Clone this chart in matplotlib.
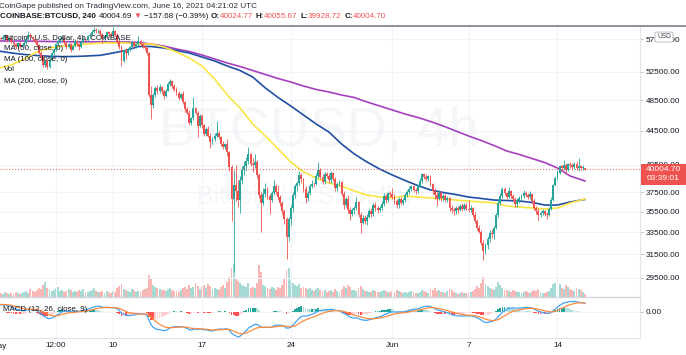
import numpy as np
import matplotlib
matplotlib.use("Agg")
import matplotlib.pyplot as plt
from matplotlib.patches import Rectangle, FancyBboxPatch
from matplotlib.ticker import FixedLocator, NullLocator, FormatStrFormatter
from matplotlib.lines import Line2D

plt.rcParams['font.family'] = ['Liberation Sans', 'DejaVu Sans']

# ---------------- data (4h candles, May 1 00:00 UTC -> Jun 16 04:00 UTC) ----------------
first_open = 57700
closes = [
    57750, 57600, 57900, 58200, 57400, 57800,   # May 1
    57100, 56700, 56300, 56900, 56400, 56580,   # May 2
    57000, 57600, 58300, 57900, 57500, 57170,   # May 3
    56600, 55400, 54700, 53600, 54200, 53250,   # May 4
    54300, 55300, 55900, 56800, 57200, 57520,   # May 5
    57800, 56900, 56300, 56700, 55900, 56440,   # May 6
    57200, 56800, 56300, 57100, 57600, 57350,   # May 7
    58000, 58300, 58700, 59100, 58800, 58950,   # May 8
    58400, 57600, 58100, 58700, 58400, 58240,   # May 9
    58800, 58300, 57200, 56300, 54200, 55850,   # May 10
    55300, 55900, 56300, 57100, 56500, 56720,   # May 11
    57200, 56700, 56400, 56100, 55300, 49150,   # May 12
    47800, 49200, 50200, 49800, 50300, 49720,   # May 13
    49100, 49800, 50700, 51200, 50500, 49880,   # May 14
    49500, 48800, 49300, 48200, 47300, 46760,   # May 15
    45500, 46100, 47400, 46800, 45100, 46430,   # May 16
    45200, 44100, 44800, 43900, 43100, 43540,   # May 17
    43900, 44300, 43700, 42900, 42500, 42900,   # May 18
    41900, 40200, 36800, 38200, 37600, 36690,   # May 19
    38800, 39900, 40300, 40900, 41700, 40590,   # May 20
    40400, 40800, 39300, 37200, 36400, 37300,   # May 21
    37800, 37100, 36700, 37400, 38100, 37530,   # May 22
    37000, 36400, 35600, 34800, 33100, 34770,   # May 23
    35900, 37200, 38100, 38500, 39300, 38870,   # May 24
    37800, 36900, 37400, 38100, 38400, 38340,   # May 25
    39200, 39900, 39100, 38600, 39400, 39240,   # May 26
    38800, 39500, 38900, 37900, 38400, 38530,   # May 27
    37300, 36200, 36800, 35700, 35300, 35680,   # May 28
    35900, 36500, 35200, 34400, 34900, 34610,   # May 29
    35000, 35600, 35300, 36200, 35900, 35680,   # May 30
    35900, 36300, 37100, 36700, 37400, 37340,   # May 31
    37000, 36600, 36200, 36800, 36400, 36690,   # Jun 1
    37200, 37500, 37800, 38100, 37700, 37580,   # Jun 2
    38200, 38700, 39400, 39100, 38900, 39190,   # Jun 3
    38300, 37600, 37200, 36800, 37400, 36880,   # Jun 4
    37100, 36700, 36900, 35900, 35700, 35530,   # Jun 5
    35900, 35700, 36100, 35800, 36200, 35800,   # Jun 6
    35700, 35900, 35200, 34600, 33900, 33570,   # Jun 7
    32500, 31800, 32300, 32900, 33400, 33380,   # Jun 8
    33900, 35200, 36400, 37100, 37800, 37390,   # Jun 9
    37000, 37600, 37100, 36800, 36300, 36690,   # Jun 10
    36900, 37100, 37400, 37200, 37000, 37340,   # Jun 11
    36600, 35900, 35600, 35200, 35400, 35550,   # Jun 12
    35300, 35200, 35800, 36700, 38200, 39020,   # Jun 13
    39600, 40300, 40100, 40500, 39900, 40530,   # Jun 14
    40400, 40200, 40600, 40100, 40300, 40150,   # Jun 15
    40160, 40004.70,                            # Jun 16
]
highs = [
    58100, 57950, 58150, 58450, 58300, 57950,
    57900, 57300, 56900, 57100, 57050, 56800,
    57200, 57800, 58900, 58500, 58100, 57700,
    57300, 56800, 55700, 55100, 54500, 54400,
    54500, 55500, 56200, 57000, 57400, 57900,
    58300, 57900, 57100, 56900, 56900, 56600,
    57500, 57400, 57000, 57300, 57900, 57800,
    58200, 58600, 59000, 59500, 59300, 59200,
    59200, 58600, 58300, 58900, 58900, 58700,
    59600, 59100, 58500, 57500, 56600, 56000,
    56200, 56100, 56500, 57300, 57300, 56900,
    58000, 57400, 56900, 56700, 56300, 55500,
    50400, 49500, 50500, 50600, 50800, 50500,
    50000, 50000, 51000, 51500, 51300, 50700,
    50300, 49700, 49500, 49700, 48400, 47600,
    47200, 46300, 49000, 47600, 47000, 46600,
    46600, 45400, 45000, 45100, 44200, 43800,
    44200, 45700, 44500, 43900, 43300, 43000,
    43500, 42100, 40500, 39900, 40500, 38800,
    39200, 40300, 40900, 41400, 42500, 41800,
    41300, 41700, 41000, 39600, 37500, 37900,
    38500, 38000, 37300, 37600, 38800, 38300,
    38200, 37200, 36600, 35800, 35000, 35000,
    36200, 37500, 38400, 38700, 39800, 39500,
    39000, 38100, 37600, 38300, 38800, 38600,
    39500, 40800, 40100, 39400, 39700, 39700,
    39500, 39800, 39700, 39100, 38600, 38800,
    38700, 37600, 37000, 37200, 36000, 35900,
    36100, 37000, 36600, 35500, 35200, 35200,
    35300, 35800, 35900, 36400, 36500, 36100,
    36100, 36600, 37400, 37300, 37500, 37600,
    37900, 37300, 36800, 37000, 37000, 36900,
    37400, 37700, 38100, 38200, 38200, 37900,
    38400, 39000, 39500, 39500, 39400, 39300,
    39300, 38500, 37900, 37500, 37700, 37600,
    37300, 37300, 37100, 37000, 36200, 36000,
    36100, 36100, 36300, 36400, 36400, 36400,
    36700, 36200, 36000, 35500, 34800, 34200,
    33700, 32800, 32500, 33200, 33700, 33800,
    34100, 35400, 36700, 37400, 38000, 38000,
    37500, 38000, 37700, 37300, 37000, 36900,
    37100, 37300, 37700, 37600, 37400, 37600,
    37400, 36800, 36100, 35900, 35600, 35800,
    35700, 35500, 36000, 37000, 38400, 39200,
    39900, 40500, 40500, 41000, 40700, 40700,
    40800, 40700, 40800, 40900, 41300, 40500,
    40400, 40055.67,
]
lows = [
    57300, 57350, 57450, 57700, 57100, 57250,
    56900, 56450, 56050, 56200, 56200, 56250,
    56400, 56800, 57400, 57700, 57300, 57000,
    56300, 55200, 54300, 53200, 53300, 53000,
    53100, 54100, 55000, 55700, 56500, 57000,
    57300, 56700, 56000, 56100, 55500, 55800,
    56300, 56500, 55800, 56200, 56900, 57100,
    57200, 57800, 58100, 58500, 58500, 58600,
    58200, 57000, 57300, 57900, 58100, 57900,
    58000, 58100, 57000, 56000, 53400, 54000,
    54500, 55100, 55600, 56100, 56300, 56200,
    56500, 56500, 56100, 55800, 55100, 48900,
    46000, 47500, 49000, 49300, 49500, 49400,
    48700, 49000, 49700, 50500, 50200, 49700,
    49200, 48500, 48600, 48000, 46900, 46600,
    45200, 45300, 45900, 46600, 43800, 45000,
    44900, 43900, 43900, 43700, 42400, 42900,
    43300, 43700, 43500, 42700, 42300, 42300,
    41500, 39800, 34600, 30000, 36600, 36000,
    35400, 38300, 39300, 39800, 40600, 40300,
    39700, 40100, 39000, 36900, 33500, 36200,
    37000, 36800, 35300, 36500, 37200, 37300,
    36700, 36100, 35300, 34300, 31100, 32700,
    34200, 35500, 36900, 37600, 38200, 38500,
    37500, 36400, 36600, 37200, 37900, 38000,
    38200, 39000, 38900, 38300, 38400, 39000,
    38500, 38500, 38700, 37600, 37600, 38100,
    37100, 35800, 36000, 35400, 34700, 35100,
    35300, 35700, 35000, 33400, 34300, 34300,
    34200, 34900, 35000, 35100, 35600, 35400,
    35500, 35700, 36100, 36400, 36500, 37000,
    36800, 36300, 35900, 35900, 36200, 36200,
    36500, 37000, 37300, 37600, 37500, 37300,
    37400, 38000, 38500, 38900, 38700, 38700,
    38100, 37300, 36800, 36100, 36700, 36600,
    36600, 36500, 36500, 35600, 35400, 35200,
    35300, 35400, 35600, 35600, 35700, 35700,
    35500, 35500, 35000, 34400, 33700, 33400,
    32300, 31000, 31500, 32000, 32600, 33000,
    32900, 33800, 35000, 36200, 36900, 37200,
    36800, 36900, 36900, 36600, 36000, 36000,
    36400, 36700, 36900, 37000, 36800, 36800,
    36400, 35700, 35300, 34700, 35000, 35200,
    35100, 34800, 35100, 35700, 36600, 38100,
    38800, 39400, 39800, 39900, 39600, 39800,
    40100, 39900, 40000, 39900, 39800, 39900,
    39900, 39928.72,
]
volume_k = [  # thousand BTC
    3, 4, 3, 5, 4, 3,   4, 3, 5, 4, 3, 4,   5, 6, 4, 8, 6, 5,
    7, 9, 8, 12, 15, 9,   8, 6, 7, 9, 10, 6,   7, 5, 6, 8, 7, 5,
    6, 5, 7, 6, 8, 5,   5, 6, 7, 9, 6, 5,   5, 6, 4, 6, 5, 4,
    6, 5, 9, 11, 13, 8,   7, 6, 5, 8, 7, 5,   6, 5, 7, 8, 9, 22,
    18, 12, 10, 9, 8, 7,   7, 6, 8, 9, 7, 6,   6, 5, 7, 9, 10, 8,
    12, 9, 10, 14, 11, 8,   10, 12, 9, 13, 11, 8,   9, 8, 7, 10, 12, 9,
    15, 20, 29, 33, 18, 16,   14, 12, 11, 10, 14, 9,   10, 9, 14, 32, 25, 12,
    11, 9, 8, 10, 9, 7,   10, 9, 12, 18, 27, 29,   16, 14, 12, 11, 13, 9,
    10, 9, 8, 9, 7, 6,   8, 9, 7, 6, 7, 5,   6, 7, 5, 8, 6, 5,
    8, 11, 9, 12, 10, 7,   7, 6, 9, 11, 8, 6,   6, 5, 5, 7, 6, 5,
    5, 6, 7, 6, 5, 5,   6, 5, 7, 6, 5, 4,   5, 4, 5, 6, 5, 4,
    4, 5, 7, 6, 5, 4,   8, 7, 9, 6, 7, 5,   5, 4, 6, 8, 7, 5,
    4, 3, 4, 5, 4, 4,   4, 5, 6, 8, 11, 9,   14, 20, 13, 11, 9, 8,
    7, 10, 15, 12, 9, 7,   7, 6, 5, 7, 6, 5,   5, 4, 5, 6, 5, 4,
    6, 7, 6, 8, 5, 4,   4, 5, 6, 9, 13, 14,   12, 13, 9, 8, 12, 10,
    8, 7, 6, 9, 8, 7,   5, 3,
]
# moving averages read at each day 00:00 (May 1 ... Jun 16)
ma50 = [53080, 53530, 54440, 55510, 56140, 56450, 56610, 56770, 56930, 56930,
        56930, 56770, 56770, 56300, 55510, 54590, 53380, 51470, 49210, 47450,
        45370, 43870, 42310, 40790, 39670, 39000, 38460, 38140, 37610, 37190,
        36980, 36880, 37090, 36980, 36880, 36780, 36670, 36570, 36470, 36370,
        36060, 35960, 35860, 35760, 35860, 36370, 36780]
ma100 = [55670, 55360, 55130, 54970, 54850, 54800, 54820, 54900, 55000, 55360,
         55750, 56375, 56375, 56140, 55750, 55360, 54740, 54130, 53380, 52710,
         51760, 50190, 48870, 47720, 46530, 45370, 44370, 42900, 41720, 40790,
         40000, 39330, 38730, 38190, 37720, 37450, 37240, 36980, 36830, 36670,
         36620, 36570, 36420, 36160, 36160, 36470, 36730]
ma200 = [57250, 57250, 57250, 57200, 57170, 57140, 57120, 57120, 57120, 57090,
         57090, 57010, 56770, 56450, 55980, 55590, 55050, 54440, 53830, 53300,
         52710, 52120, 51540, 51040, 50470, 49980, 49630, 49210, 48870, 48260,
         47720, 47190, 46660, 46210, 45690, 45120, 44490, 43870, 43320, 42720,
         42070, 41660, 41190, 40730, 40110, 39220, 38680]
ema12_seed, ema26_seed, signal_seed = 57400, 56500, 850

price_ticks = [29500, 31500, 33500, 35500, 37500, 40500, 44500, 48500, 52500, 57500]
date_ticks = [4.5, 9, 16, 23, 31, 37, 44]      # days since May 1 00:00
date_labels = ['12:00', '10', '17', '24', 'Jun', '7', '14']
last_price = 40004.70
countdown = '03:39:01'

n = len(closes)
assert n == len(highs) == len(lows) == len(volume_k), (n, len(highs), len(lows), len(volume_k))

# ---------------- derived ----------------
c = np.array(closes, float)
o = np.concatenate([[first_open], c[:-1]])
h = np.array(highs, float)
l = np.array(lows, float)
v = np.array(volume_k, float)
x = np.arange(n) / 6.0
up = c >= o

UP, DN = '#26a69a', '#ef5350'
cols = np.where(up, UP, DN)

def ema(vals, seed, span):
    a = 2.0 / (span + 1)
    out = np.empty(len(vals))
    e = seed
    for i, val in enumerate(vals):
        e = e + a * (val - e)
        out[i] = e
    return out

macd = ema(c, ema12_seed, 12) - ema(c, ema26_seed, 26)
signal = ema(macd, signal_seed, 9)
hist = macd - signal

# ---------------- figure ----------------
W, H = 686, 355
fig = plt.figure(figsize=(W / 100, H / 100), dpi=100)
fig.patch.set_facecolor('white')

def fx(px): return px / W
def fy(py): return 1 - py / H

TXT = '#131722'
GRID = '#f0f3fa'
BORDER = '#e0e3eb'
FS = 5.9

rect_price = [0, fy(297), fx(640), (297 - 26) / H]
axv = fig.add_axes(rect_price)
ax = fig.add_axes(rect_price, sharex=axv)
axm = fig.add_axes([0, fy(338), fx(640), (338 - 297) / H], sharex=axv)
axv.set_zorder(0); ax.set_zorder(1); axm.set_zorder(1)
ax.patch.set_visible(False)
axv.patch.set_visible(False)

# watermark
fig.text(fx(319), fy(132), 'BTCUSD, 4h', fontsize=40, color='#f5f6f8',
         ha='center', va='center', zorder=-5)
fig.text(fx(305), fy(197), 'Bitcoin / U.S. Dollar', fontsize=18, color='#f5f6f8',
         ha='center', va='center', zorder=-5)

# price axis
ax.set_yscale('log')
ax.set_xlim(0.102, 50.5)
ax.set_ylim(27947, 59706)
ax.yaxis.set_major_locator(FixedLocator(price_ticks))
ax.yaxis.set_minor_locator(NullLocator())
ax.yaxis.set_major_formatter(FormatStrFormatter('%.2f'))
ax.yaxis.tick_right()
ax.tick_params(axis='y', length=2.2, width=0.6, color='#b2b5be', pad=2,
               labelsize=FS, labelcolor=TXT)
ax.tick_params(axis='x', length=0, labelbottom=False)
ax.set_xticks(date_ticks)
ax.grid(True, color=GRID, lw=0.8, zorder=0)
for s in ['top', 'left']:
    ax.spines[s].set_visible(False)
ax.spines['right'].set_color(BORDER)
ax.spines['bottom'].set_color('#d1d4dc')
ax.spines['bottom'].set_linewidth(1.0)

# volume
axv.bar(x, v, width=0.15, color=cols, alpha=0.42, linewidth=0)
axv.set_ylim(0, v.max() * 271 / 33)
axv.axis('off')

# MAs
x_ma = np.arange(len(ma50), dtype=float)
x_ma[-1] = x[-1]
ax.plot(x_ma, ma200, color='#a440bf', lw=1.2, zorder=3)
ax.plot(x_ma, ma100, color='#1f4fa3', lw=1.2, zorder=3)
ax.plot(x_ma, ma50, color='#fbe543', lw=1.2, zorder=3)

# candles
ax.vlines(x, l, h, colors=cols, lw=0.6, zorder=4)
body_lo = np.minimum(o, c)
body_h = np.maximum(np.abs(c - o), body_lo * 0.0006)
ax.bar(x, body_h, bottom=body_lo, width=0.15, color=cols, linewidth=0, zorder=5)

# last price line
ax.axhline(last_price, color=DN, lw=0.7, ls=(0, (1, 2)), zorder=6)

# MACD pane
hcols = []
for i, hv in enumerate(hist):
    prev = hist[i - 1] if i > 0 else hv
    if hv >= 0:
        hcols.append('#26a69a' if hv > prev else '#b2dfdb')
    else:
        hcols.append('#ffcdd2' if hv > prev else '#ff5252')
axm.bar(x, hist, width=0.14, color=hcols, linewidth=0, zorder=2)
axm.plot(x, macd, color='#42a5f5', lw=0.9, zorder=3)
axm.plot(x, signal, color='#ff8a3d', lw=0.9, zorder=3)
lo = min(macd.min(), signal.min(), hist.min())
m_bottom = lo * 1.04
m_top = -m_bottom * 15 / 26          # keeps zero line 15 px below the pane top
axm.set_ylim(m_bottom, m_top)
axm.yaxis.tick_right()
axm.set_yticks([0])
axm.yaxis.set_major_formatter(FormatStrFormatter('%.2f'))
axm.tick_params(axis='y', length=2.2, width=0.6, color='#b2b5be', pad=2,
                labelsize=FS, labelcolor=TXT)
axm.set_xticks(date_ticks)
axm.set_xticklabels(date_labels)
axm.tick_params(axis='x', length=0, pad=3.2, labelsize=FS, labelcolor=TXT)
axm.grid(True, color=GRID, lw=0.8, zorder=0)
axm.patch.set_visible(False)
for s in ['top', 'left']:
    axm.spines[s].set_visible(False)
axm.spines['right'].set_color(BORDER)
axm.spines['bottom'].set_color(BORDER)
fig.text(fx(-1.3), fy(346.7), 'May', fontsize=FS, color=TXT, ha='center', va='center')

# header
fig.add_artist(Line2D([0, 1], [fy(26), fy(26)], color='#6f737d', lw=1.1))
renderer = fig.canvas.get_renderer()

def runs(x0, ypx, parts, size):
    xp = x0
    for text, color, weight, gap in parts:
        t = fig.text(fx(xp), fy(ypx), text, color=color, fontsize=size,
                     fontweight=weight, ha='left', va='center')
        bb = t.get_window_extent(renderer=renderer)
        xp += bb.width + gap

runs(-1, 6, [('CoinGape published on TradingView.com, June 16, 2021 04:21:02 UTC',
              '#2a2e39', 'normal', 0)], 5.9)
RED = '#f05454'
runs(0, 16.5, [
    ('COINBASE:BTCUSD, 240', TXT, 'bold', 2.5),
    ('40004.69', TXT, 'normal', 2),
    ('\u25bc', RED, 'normal', 2),
    ('\u2212157.68 (\u22120.39%)', TXT, 'normal', 2.5),
    ('O:', TXT, 'bold', 0.4),
    ('40024.77', RED, 'normal', 2.5),
    ('H:', TXT, 'bold', 0.4),
    ('40055.67', RED, 'normal', 2.5),
    ('L:', TXT, 'bold', 0.4),
    ('39928.72', RED, 'normal', 2.5),
    ('C:', TXT, 'bold', 0.4),
    ('40004.70', RED, 'normal', 0),
], 5.75)

# legend in pane
for ypx, txt in [(37.7, 'Bitcoin / U.S. Dollar, 4h, COINBASE'), (48.5, 'MA (50, close, 0)'),
                 (59.3, 'MA (100, close, 0)'), (69.5, 'Vol'), (81.7, 'MA (200, close, 0)')]:
    fig.text(fx(4), fy(ypx), txt, fontsize=5.7, color=TXT, ha='left', va='center', zorder=10)
fig.text(fx(3), fy(309.5), 'MACD (12, 26, close, 9)', fontsize=5.7, color=TXT,
         ha='left', va='center', zorder=10)

# price label box
fig.add_artist(Rectangle((fx(641), fy(184.5)), fx(45), (184.5 - 164) / H,
                         facecolor='#ef5350', edgecolor='none', zorder=20))
fig.text(fx(663.5), fy(169.5), '%.2f' % last_price, fontsize=6.0, color='white',
         ha='center', va='center', zorder=21)
fig.text(fx(663.5), fy(179), countdown, fontsize=6.0, color='white',
         ha='center', va='center', zorder=21)

# USD badge
fig.add_artist(FancyBboxPatch((fx(655), fy(42)), fx(18), 10 / H,
                              boxstyle='round,pad=0,rounding_size=0.004',
                              facecolor='white', edgecolor='#b2b5be', lw=0.6, zorder=20))
fig.text(fx(664), fy(37), 'USD', fontsize=4.8, color='#434651', ha='center', va='center', zorder=21)

fig.savefig('out.png', dpi=100)
